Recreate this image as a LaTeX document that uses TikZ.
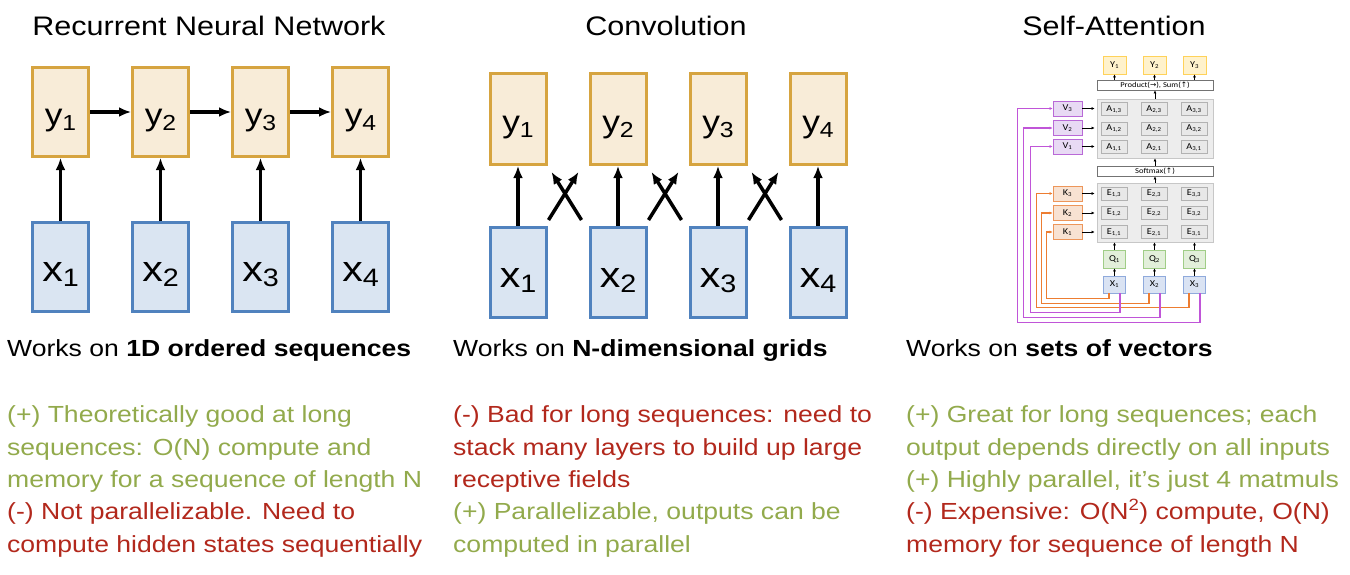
\documentclass[tikz,border=0pt]{standalone}
\usepackage{fontspec}
\setmainfont{Liberation Sans}[FakeStretch=1.14]
\newfontfamily\slidefont{Carlito}[FakeStretch=1.14]
\newfontfamily\arrowfont{DejaVu Sans}
\usetikzlibrary{positioning,calc,arrows.meta}

\newcommand{\boxsub}[1]{\raisebox{-0.15em}{\scalebox{0.7}{#1}}}

\definecolor{yfill}{RGB}{248,236,216}
\definecolor{ydraw}{RGB}{214,164,64}
\definecolor{xfill}{RGB}{218,229,242}
\definecolor{xdraw}{RGB}{80,130,190}
\definecolor{good}{RGB}{146,170,76}
\definecolor{bad}{RGB}{178,40,28}
\definecolor{outfill}{RGB}{255,242,204}
\definecolor{outdraw}{RGB}{255,210,90}
\definecolor{vfill}{RGB}{232,218,244}
\definecolor{vdraw}{RGB}{185,105,215}
\definecolor{kfill}{RGB}{248,226,210}
\definecolor{kdraw}{RGB}{237,150,90}
\definecolor{qfill}{RGB}{226,239,218}
\definecolor{qdraw}{RGB}{160,205,135}
\definecolor{infill}{RGB}{218,227,243}
\definecolor{indraw}{RGB}{143,170,220}
\definecolor{owire}{RGB}{237,125,49}
\definecolor{pwire}{RGB}{192,85,216}

\begin{document}
\begin{tikzpicture}[x=1pt, y=-1pt,
  ybox/.style={draw=ydraw, fill=yfill, line width=3pt, minimum width=56pt, minimum height=89pt,
    inner sep=0pt, text height=30pt, text depth=3pt, font=\fontsize{31}{31}\selectfont},
  xbox/.style={draw=xdraw, fill=xfill, line width=3pt, minimum width=56pt, minimum height=89pt,
    inner sep=0pt, text height=32pt, text depth=3pt, font=\fontsize{36}{36}\selectfont},
  link/.style={-{Latex[length=12pt, width=10pt]}, line width=3.5pt},
  title/.style={anchor=base, font=\fontsize{26.8}{30}\selectfont},
  body/.style={anchor=base west, inner sep=0pt, align=left, font=\fontsize{23.3}{32.3}\selectfont},
  tiny/.style={draw, line width=0.8pt, inner sep=0pt, font=\slidefont\fontsize{9}{9}\selectfont},
  cell/.style={tiny, draw=black!30, fill=black!9, minimum width=26pt, minimum height=13pt},
  panel/.style={draw=black!22, fill=black!7, line width=0.8pt, minimum width=116pt, minimum height=59pt},
  bar/.style={tiny, draw=black!55, fill=white, minimum width=116pt, minimum height=10pt,
    font=\slidefont\fontsize{7.5}{7.5}\selectfont},
  sarrow/.style={-{Latex[length=3pt, width=3pt]}, line width=0.8pt},
  wire/.style={-{Latex[length=3pt, width=3pt]}, line width=1.2pt}
]
\useasboundingbox (0,0) rectangle (1350,574);

% titles
\node[title] (rnntitle) at (209,35) {Recurrent Neural Network};
\node[title] (convtitle) at (666,35) {Convolution};
\node[title] (attntitle) at (1114,35) {Self-Attention};

% recurrent network
\foreach \i in {1,...,4} {
  \node[ybox] (ry\i) at ({60.5+100*(\i-1)},112) {y\boxsub{\i}};
  \node[xbox] (rx\i) at ({60.5+100*(\i-1)},266.5) {x\boxsub{\i}};
  \draw[link] (rx\i) -- (ry\i);
}
\draw[link] (ry1) -- (ry2);
\draw[link] (ry2) -- (ry3);
\draw[link] (ry3) -- (ry4);

% convolution
\foreach \i in {1,...,4} {
  \node[ybox, minimum height=91pt] (cy\i) at ({518+100*(\i-1)},119) {y\boxsub{\i}};
  \node[xbox, minimum height=90pt] (cx\i) at ({518+100*(\i-1)},272.5) {x\boxsub{\i}};
  \draw[link] (cx\i) -- (cy\i);
}
\foreach \i/\j in {1/2,2/3,3/4} {
  \coordinate (mid\i) at ($(cy\i.south east)!0.5!(cx\j.north west)+(-3,0)$);
  \draw[link] ($(mid\i)+(-16.5,24)$) -- ($(mid\i)+(13.5,-24)$);
  \draw[link] ($(mid\i)+(16.5,24)$) -- ($(mid\i)+(-13.5,-24)$);
}

% self-attention
\node[panel] (apanel) at (1155,128.5) {};
\node[panel] (epanel) at (1155,212.5) {};
\node[bar] (prod) at (1155,85) {Product({\arrowfont →}), Sum({\arrowfont ↑})};
\node[bar] (soft) at (1155,171) {Softmax({\arrowfont ↑})};
\foreach \i in {1,2,3} {
  \node[tiny, draw=outdraw, fill=outfill, minimum width=23pt, minimum height=18pt] (sy\i) at ({1114.5+40*(\i-1)},65) {Y\textsubscript{\i}};
  \node[tiny, draw=qdraw, fill=qfill, minimum width=22pt, minimum height=18pt] (sq\i) at ({1114.5+40*(\i-1)},259) {Q\textsubscript{\i}};
  \node[tiny, draw=indraw, fill=infill, minimum width=22pt, minimum height=17pt] (sx\i) at ({1114.5+40*(\i-1)},284.5) {X\textsubscript{\i}};
  \draw[sarrow] (sx\i) -- (sq\i);
  \draw[sarrow] (sq\i.north) -- (sq\i.north |- epanel.south);
  \draw[sarrow] (sy\i.south |- prod.north) -- (sy\i.south);
  \foreach \j/\ya/\ye in {1/147/232,2/128.5/212.5,3/109/193.5} {
    \node[cell] (a\i\j) at ({1114+40*(\i-1)},\ya) {A\textsubscript{\i,\j}};
    \node[cell] (e\i\j) at ({1114+40*(\i-1)},\ye) {E\textsubscript{\i,\j}};
  }
}
\foreach \j/\ya/\ye in {1/146.5/232,2/128/213,3/108.5/193.5} {
  \node[tiny, draw=vdraw, fill=vfill, minimum width=29pt, minimum height=15pt] (v\j) at (1067.5,\ya) {V\textsubscript{\j}};
  \node[tiny, draw=kdraw, fill=kfill, minimum width=29pt, minimum height=15pt] (k\j) at (1067.5,\ye) {K\textsubscript{\j}};
  \draw[sarrow, shorten >=2pt] (v\j.east) -- (v\j.east -| apanel.west);
  \draw[sarrow, shorten >=2pt] (k\j.east) -- (k\j.east -| epanel.west);
}
\draw[sarrow] (epanel.north) -- (soft.south);
\draw[sarrow] (soft.north) -- (apanel.south);
\draw[sarrow] (apanel.north) -- (prod.south);

% wires from the inputs
\draw[wire, owire] ([xshift=-5.5pt]sx1.south) -- ++(0,5) -| ([xshift=-6pt]k1.west) -- (k1.west);
\draw[wire, owire] ([xshift=-5.5pt]sx2.south) -- ++(0,10) -| ([xshift=-11pt]k2.west) -- (k2.west);
\draw[wire, owire] ([xshift=-5.5pt]sx3.south) -- ++(0,14) -| ([xshift=-16pt]k3.west) -- (k3.west);
\draw[wire, pwire] ([xshift=5.5pt]sx1.south) -- ++(0,19) -| ([xshift=-22pt]v1.west) -- (v1.west);
\draw[wire, pwire] ([xshift=5.5pt]sx2.south) -- ++(0,24) -| ([xshift=-29pt]v2.west) -- (v2.west);
\draw[wire, pwire] ([xshift=5.5pt]sx3.south) -- ++(0,29) -| ([xshift=-35pt]v3.west) -- (v3.west);

% texts below (a node's base is its last line)
\node[body] (rnnworks) at (7,356.7) {Works on \textbf{1D ordered sequences}};
\node[body] (rnnnotes) at (7,552) {\color{good}(+) Theoretically good at long\\
  \color{good}sequences: O(N) compute and\\
  \color{good}memory for a sequence of length N\\
  \color{bad}(-) Not parallelizable. Need to\\
  \color{bad}compute hidden states sequentially};
\node[body] (convworks) at (453,356.7) {Works on \textbf{N-dimensional grids}};
\node[body] (convnotes) at (453,552) {\color{bad}(-) Bad for long sequences: need to\\
  \color{bad}stack many layers to build up large\\
  \color{bad}receptive fields\\
  \color{good}(+) Parallelizable, outputs can be\\
  \color{good}computed in parallel};
\node[body] (attnworks) at (906,356.7) {Works on \textbf{sets of vectors}};
\node[body] (attnnotes) at (906,552) {\color{good}(+) Great for long sequences; each\\
  \color{good}output depends directly on all inputs\\
  \color{good}(+) Highly parallel, it’s just 4 matmuls\\
  \color{bad}(-) Expensive: O(N\textsuperscript{2}) compute, O(N)\\
  \color{bad}memory for sequence of length N};
\end{tikzpicture}
\end{document}
